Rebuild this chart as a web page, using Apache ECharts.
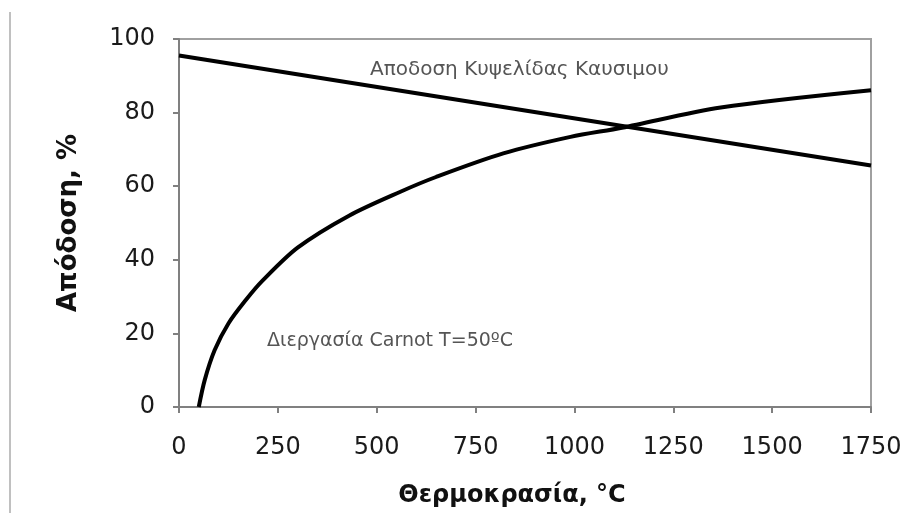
<!DOCTYPE html>
<html>
<head>
<meta charset="utf-8">
<script src="https://cdn.jsdelivr.net/npm/echarts@6/dist/echarts.min.js"></script>
<style>
  html, body { margin: 0; padding: 0; background: #fff; }
  #main { width: 922px; height: 513px; }
</style>
</head>
<body>
<div id="main"></div>
<script>
var chartDom = document.getElementById('main');
var myChart = echarts.init(chartDom);

const fuelCellX = [0, 1750];
const fuelCellY = [95.5, 65.6];

const carnotX = [50, 65, 90, 125, 170, 210, 300, 430, 560, 650, 820, 990, 1120, 1370, 1750];
const carnotY = [0, 7.3, 15.4, 22.7, 29.2, 34.2, 43.3, 52, 58.5, 62.5, 68.9, 73.4, 75.9, 81.4, 86.1];

const fuelCellLabel = 'Αποδοση Κυψελίδας Καυσιμου';
const carnotLabel = 'Διεργασία Carnot T=50ºC';

function pairs(xs, ys) {
  return xs.map((x, i) => [x, ys[i]]);
}

const font = '"DejaVu Sans", "Liberation Sans", Arial, sans-serif';
const axisColor = '#808080';

var option = {
  animation: false,
  backgroundColor: '#fff',
  grid: {
    left: 179, right: 51, top: 39, bottom: 106,
    show: true, borderColor: '#a0a0a0', borderWidth: 2
  },
  xAxis: {
    type: 'value',
    min: 0, max: 1750, interval: 250,
    name: 'Θερμοκρασία, °C',
    nameLocation: 'middle',
    nameGap: 77,
    nameTextStyle: { fontFamily: font, fontSize: 24, fontWeight: 'bold', color: '#111', padding: [0, 26, 0, 0] },
    axisLine: { show: true, lineStyle: { color: axisColor, width: 2 } },
    axisTick: { show: true, length: 6, lineStyle: { color: axisColor, width: 2 } },
    axisLabel: { fontFamily: font, fontSize: 24, color: '#1a1a1a', margin: 29, formatter: v => String(v) },
    splitLine: { show: false }
  },
  yAxis: {
    type: 'value',
    min: 0, max: 100, interval: 20,
    name: 'Απόδοση, %',
    nameLocation: 'middle',
    nameGap: 97,
    nameTextStyle: { fontFamily: font, fontSize: 26, fontWeight: 'bold', color: '#111' },
    axisLine: { show: true, lineStyle: { color: axisColor, width: 2 } },
    axisTick: { show: true, length: 6, lineStyle: { color: axisColor, width: 2 } },
    axisLabel: { fontFamily: font, fontSize: 24, color: '#1a1a1a', margin: 24 },
    splitLine: { show: false }
  },
  series: [
    {
      name: fuelCellLabel,
      type: 'line',
      data: pairs(fuelCellX, fuelCellY),
      showSymbol: false,
      lineStyle: { color: '#000', width: 4 }
    },
    {
      name: carnotLabel,
      type: 'line',
      data: pairs(carnotX, carnotY),
      smooth: 0.3,
      showSymbol: false,
      lineStyle: { color: '#000', width: 4 }
    }
  ],
  graphic: [
    { type: 'rect', shape: { x: 9, y: 12, width: 2, height: 501 }, style: { fill: '#c0c0c0' } },
    { type: 'text', left: 370, top: 60, style: { text: fuelCellLabel, font: '20px ' + font, fill: '#555' } },
    { type: 'text', left: 267, top: 332, style: { text: carnotLabel, font: '19px ' + font, fill: '#555' } }
  ]
};

myChart.setOption(option);
</script>
</body>
</html>
